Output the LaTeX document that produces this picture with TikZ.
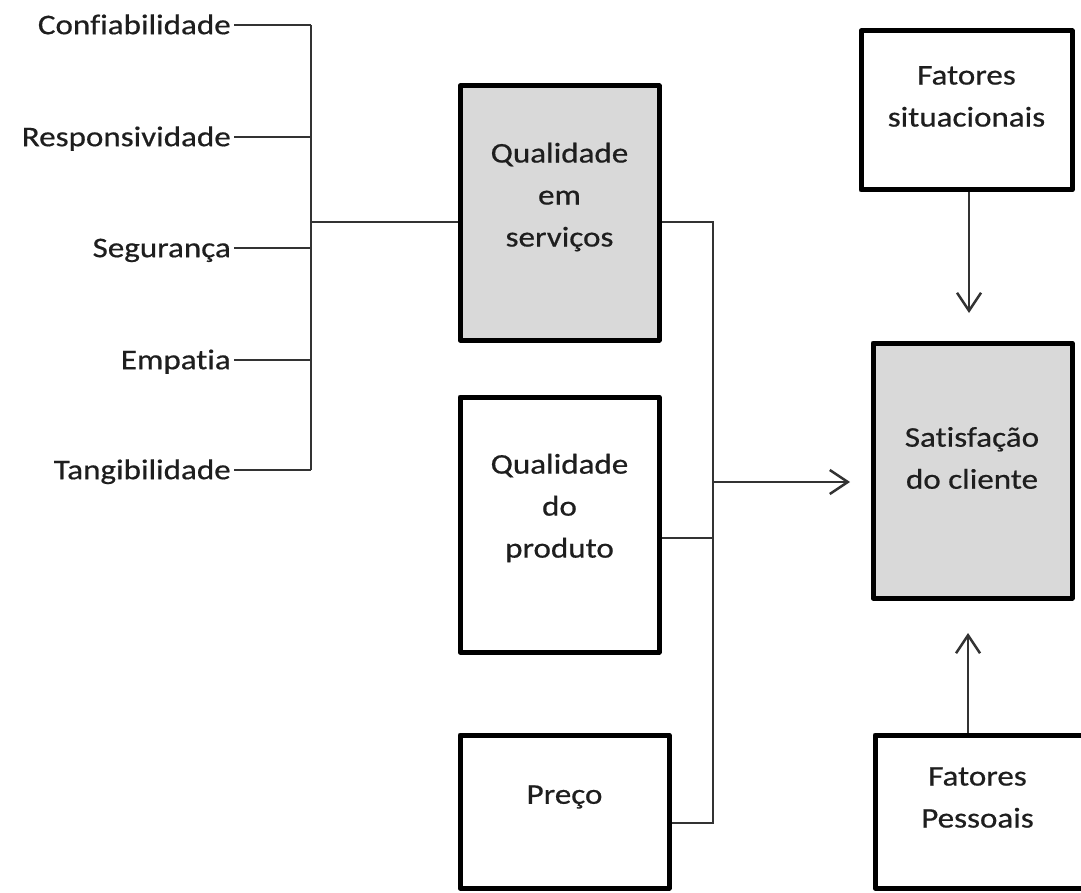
\documentclass[tikz,border=0pt]{standalone}
\usepackage{fontspec}
\setmainfont{Carlito}[FakeStretch=1.16, FakeBold=0.6, Ligatures={NoCommon}]
\usetikzlibrary{arrows.meta}
\definecolor{boxgray}{HTML}{D9D9D9}
\definecolor{ink}{HTML}{1E1E1E}
\definecolor{wirec}{HTML}{333333}
\begin{document}
\begin{tikzpicture}[x=1pt,y=-1pt,
  box/.style={draw=black, line width=5pt, line join=round, rectangle, inner sep=0pt},
  shaded/.style={box, fill=boxgray},
  plain/.style={box, fill=white},
  txt/.style={font=\fontsize{28.5}{42}\selectfont, text=ink, align=center, inner sep=0pt},
  lab/.style={font=\fontsize{28.5}{42}\selectfont, text=ink, inner sep=0pt, inner xsep=3pt,
              anchor=east, text height=18.4pt, text depth=0pt},
  wire/.style={draw=wirec, line width=2.5pt},
  arr/.style={wire, -{Straight Barb[length=18pt,width=24pt,line width=2.5pt]}}
]
\useasboundingbox (0,0) rectangle (1081,893);

% service-quality dimensions
\node[lab] (c1) at (234,25)  {Confiabilidade};
\node[lab] (c2) at (234,137) {Responsividade};
\node[lab] (c3) at (234,248) {Segurança};
\node[lab] (c4) at (234,360) {Empatia};
\node[lab] (c5) at (234,470) {Tangibilidade};

% boxes
\node[shaded, minimum width=199pt, minimum height=254pt] (qs) at (559.5,213) {};
\node[plain,  minimum width=199pt, minimum height=255pt] (qp) at (559.5,524.5) {};
\node[plain,  minimum width=209pt, minimum height=153pt] (preco) at (564.5,811.5) {};
\node[plain,  minimum width=211pt, minimum height=159pt] (fs) at (966.5,110.5) {};
\node[shaded, minimum width=199pt, minimum height=255pt] (sat) at (972.5,470.5) {};
\node[plain,  minimum width=209pt, minimum height=153pt] (fp) at (979.5,811.5) {};

% box texts
\node[txt] (qs-t)    at (559.5,197) {Qualidade\\em\\serviços};
\node[txt] (qp-t)    at (559.5,508) {Qualidade\\do\\produto};
\node[txt] (preco-t) at (564.5,797) {Preço};
\node[txt] (fs-t)    at (966.5,96.5) {Fatores\\situacionais};
\node[txt] (sat-t)   at (972,458) {Satisfação\\do cliente};
\node[txt] (fp-t)    at (977.5,797.5) {Fatores\\Pessoais};

% left bus
\coordinate (bus) at (311,0);
\coordinate (j1) at (311,222);
\foreach \n in {c1,c2,c3,c4,c5}
  \draw[wire] (\n.east) -- (\n.east -| bus);
\draw[wire] (c1.east -| bus) -- (c5.east -| bus);
\draw[wire] (j1) -- (j1 -| qs.west);

% right bus
\coordinate (r1) at (713,222);
\coordinate (r0) at (713,482);
\coordinate (r2) at (713,538);
\coordinate (r3) at (713,823);
\coordinate (satin) at (850,482);
\draw[wire] (r1 -| qs.east) -- (r1) -- (r3) -- (r3 -| preco.east);
\draw[wire] (r2 -| qp.east) -- (r2);
\draw[arr] (r0) -- (satin);

% situational and personal factors
\coordinate (sattop) at (969,313);
\coordinate (satbot) at (968,633);
\draw[arr] (fs.south -| sattop) -- (sattop);
\draw[arr] (fp.north -| satbot) -- (satbot);
\end{tikzpicture}
\end{document}
